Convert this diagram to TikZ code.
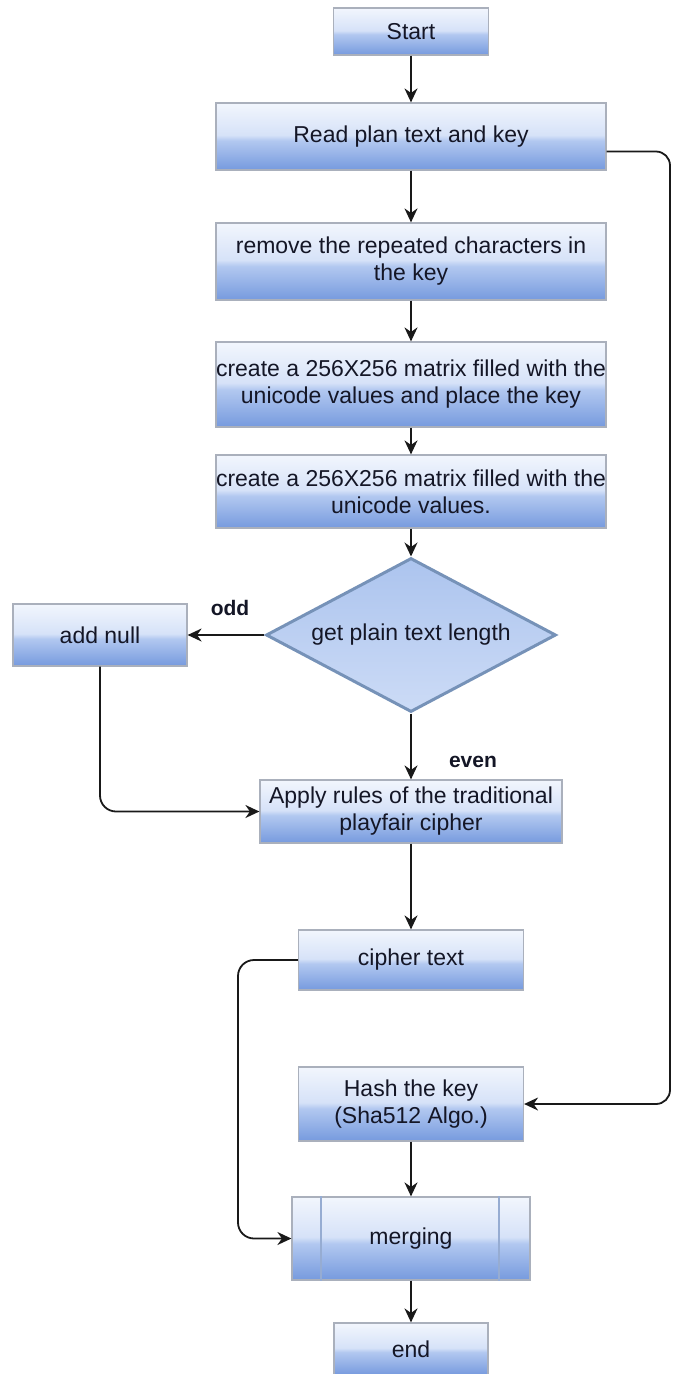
\documentclass[tikz,border=0pt]{standalone}
\usepackage{fontspec}
\setmainfont{Liberation Sans}
\usetikzlibrary{shapes.geometric,arrows.meta}

\definecolor{boxtop}{RGB}{242,246,253}
\definecolor{boxlite}{RGB}{214,226,248}
\definecolor{boxmid}{RGB}{178,200,240}
\definecolor{boxbot}{RGB}{118,154,222}
\definecolor{boxline}{RGB}{170,176,188}
\definecolor{barline}{RGB}{150,172,210}
\definecolor{diatop}{RGB}{172,196,238}
\definecolor{diabot}{RGB}{204,219,246}
\definecolor{dialine}{RGB}{118,146,184}
\definecolor{txt}{RGB}{20,22,38}

\pgfdeclareverticalshading{gloss}{100bp}{color(0bp)=(boxbot); color(25bp)=(boxbot); color(47bp)=(boxmid); color(51bp)=(boxlite); color(75bp)=(boxtop); color(100bp)=(boxtop)}

\tikzset{
  procbox/.style={draw=boxline, line width=1.2pt, shading=gloss, text=txt,
    align=center, inner sep=0pt, font=\fontsize{23}{27}\selectfont},
  decision/.style={diamond, shape aspect=1.9, draw=dialine, line width=3pt,
    top color=diatop, bottom color=diabot, text=txt, inner sep=0pt,
    font=\fontsize{23}{27}\selectfont},
  flow/.style={-{Stealth[length=14pt,width=13pt]}, line width=1.8pt, black!90},
  lbl/.style={font=\fontsize{21}{25}\selectfont\bfseries, text=txt}
}

\begin{document}
\begin{tikzpicture}[x=1pt,y=-1pt]
\useasboundingbox (0,0) rectangle (673,1374);

\node[procbox, minimum width=155, minimum height=47] (start) at (411,31.5) {Start};
\node[procbox, minimum width=390, minimum height=67] (read) at (411,136.5) {Read plan text and key};
\node[procbox, minimum width=390, minimum height=77] (remove) at (411,261.5) {remove the repeated characters in\\the key};
\node[procbox, minimum width=390, minimum height=85] (fillkey) at (411,384.5) {create a 256X256 matrix filled with the\\unicode values and place the key};
\node[procbox, minimum width=390, minimum height=73] (fillval) at (411,491.5) {create a 256X256 matrix filled with the\\unicode values.};
\node[decision, minimum width=290, minimum height=154] (len) at (411,635) {get plain text length};
\node[procbox, minimum width=174, minimum height=62] (addnull) at (100,635) {add null};
\node[procbox, minimum width=302, minimum height=63] (apply) at (411,811.5) {Apply rules of the traditional\\playfair cipher};
\node[procbox, minimum width=225, minimum height=60] (cipher) at (411,960) {cipher text};
\node[procbox, minimum width=225, minimum height=74] (hash) at (411,1104) {Hash the key\\(Sha512 Algo.)};
\node[procbox, minimum width=238, minimum height=83] (merge) at (411,1238.5) {merging};
\node[procbox, minimum width=154, minimum height=52] (end) at (411,1349) {end};

\draw[barline, line width=2pt] ([xshift=30pt]merge.north west) -- ([xshift=30pt]merge.south west);
\draw[barline, line width=2pt] ([xshift=-32pt]merge.north east) -- ([xshift=-32pt]merge.south east);

\node[lbl] (odd) at (230,608) {odd};
\node[lbl] (even) at (473,762) {even};

\coordinate (rbend) at (670,0);
\coordinate (lbend) at (238,0);

\draw[flow] (start) -- (read);
\draw[flow] (read) -- (remove);
\draw[flow] (remove) -- (fillkey);
\draw[flow] (fillkey) -- (fillval);
\draw[flow] (fillval) -- (len);
\draw[flow] (len) -- (addnull);
\draw[flow] (len) -- (apply);
\draw[flow, rounded corners=16pt] (addnull.south) |- (apply.west);
\draw[flow] (apply) -- (cipher);
\draw[flow, rounded corners=16pt] (cipher.west) -| (lbend |- merge.west) -- (merge.west);
\draw[flow, rounded corners=14pt] ([yshift=-15pt]read.east) -| (rbend |- hash.east) -- (hash.east);
\draw[flow] (hash) -- (merge);
\draw[flow] (merge) -- (end);
\end{tikzpicture}
\end{document}
